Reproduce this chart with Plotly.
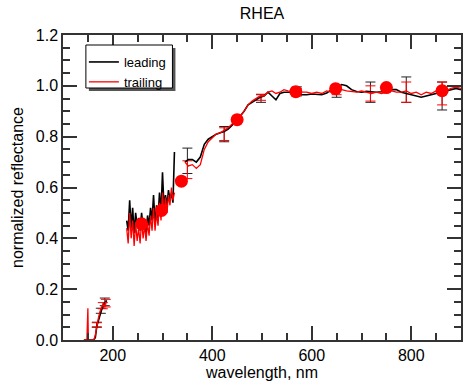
import plotly.graph_objects as go

# ---------------- data ----------------
# UV segment
uv_wl = [142, 146, 148, 150, 151, 154, 158, 162, 165, 168, 171, 174, 177, 180, 183, 186, 188]
lead_uv = [0.0, 0.0, 0.0, 0.0, 0.0, 0.0, 0.0, 0.0, 0.01, 0.055, 0.075, 0.10, 0.115, 0.13, 0.145, 0.15, 0.155]
trail_uv = [0.0, 0.0, 0.0, 0.125, 0.0, 0.0, 0.0, 0.0, 0.02, 0.06, 0.085, 0.11, 0.125, 0.14, 0.13, 0.15, 0.145]

# noisy mid-UV segment
noisy_wl = [228, 231, 234, 237, 240, 243, 246, 249, 252, 255, 258, 261, 264, 267, 270, 273, 276,
            279, 282, 285, 288, 291, 294, 297, 300, 303, 306, 309, 312, 315, 318, 321, 324]
lead_noisy = [0.47, 0.43, 0.55, 0.44, 0.52, 0.42, 0.50, 0.45, 0.48, 0.43, 0.50, 0.44, 0.47, 0.42, 0.49, 0.45, 0.52,
              0.47, 0.57, 0.46, 0.53, 0.48, 0.58, 0.50, 0.66, 0.52, 0.57, 0.53, 0.59, 0.55, 0.58, 0.54, 0.74]
trail_noisy = [0.44, 0.38, 0.50, 0.40, 0.47, 0.37, 0.46, 0.39, 0.44, 0.38, 0.47, 0.40, 0.45, 0.39, 0.46, 0.41, 0.49,
               0.43, 0.52, 0.43, 0.50, 0.45, 0.54, 0.47, 0.58, 0.49, 0.56, 0.50, 0.57, 0.53, 0.60, 0.55, 0.58]

# visible / near-IR segment
vis_wl = [345, 352, 360, 368, 376, 384, 392, 400, 408, 416, 424, 432, 440, 448, 456, 464, 472, 480, 488, 496,
          504, 512, 520, 528, 536, 544, 552, 560, 570, 580, 590, 600, 610, 620, 630, 640, 650, 660, 670, 680,
          690, 700, 710, 720, 730, 740, 750, 760, 770, 780, 790, 800, 810, 820, 830, 840, 850, 860, 870, 880,
          890, 900]
lead_vis = [0.70, 0.71, 0.71, 0.70, 0.72, 0.77, 0.79, 0.80, 0.81, 0.815, 0.82, 0.83, 0.845, 0.865, 0.88, 0.90,
            0.925, 0.935, 0.945, 0.955, 0.96, 0.975, 0.96, 0.945, 0.97, 0.975, 0.975, 0.975, 0.975, 0.965,
            0.965, 0.968, 0.965, 0.965, 0.972, 0.985, 0.99, 1.005, 1.0, 0.985, 0.978, 0.975, 0.978, 0.976,
            0.975, 0.977, 0.98, 0.985, 0.985, 0.975, 0.97, 0.965, 0.96, 0.955, 0.96, 0.965, 0.97, 0.975,
            0.98, 0.985, 0.99, 0.985]
trail_vis = [0.70, 0.685, 0.69, 0.675, 0.69, 0.75, 0.78, 0.795, 0.81, 0.815, 0.825, 0.835, 0.85, 0.865, 0.88,
             0.90, 0.925, 0.94, 0.95, 0.96, 0.96, 0.975, 0.98, 0.97, 0.975, 0.985, 0.98, 0.978, 0.98, 0.975,
             0.975, 0.97, 0.975, 0.97, 0.98, 0.975, 0.985, 0.985, 0.98, 0.978, 0.975, 0.98, 0.975, 0.97,
             0.975, 0.97, 0.975, 0.98, 0.975, 0.975, 0.98, 0.97, 0.975, 0.965, 0.975, 0.97, 0.98, 0.985,
             0.98, 0.99, 0.995, 0.99]

# binned points with error bars
lead_err_wl = [168, 176, 184, 350, 424, 498, 570, 650, 718, 790, 862]
lead_err_val = [0.06, 0.115, 0.15, 0.705, 0.81, 0.95, 0.98, 0.975, 0.975, 0.985, 0.96]
lead_err = [0.01, 0.01, 0.015, 0.05, 0.03, 0.015, 0.016, 0.02, 0.04, 0.05, 0.055]
trail_err_wl = [168, 180, 186, 350, 424, 498, 570, 650, 718, 790, 862]
trail_err_val = [0.06, 0.135, 0.145, 0.67, 0.81, 0.955, 0.975, 0.98, 0.97, 0.975, 0.97]
trail_err = [0.008, 0.012, 0.015, 0.035, 0.025, 0.012, 0.015, 0.015, 0.03, 0.04, 0.045]

# photometric points (red dots)
dot_wl = [258, 298, 338, 450, 568, 648, 750, 862]
dot_val = [0.457, 0.51, 0.625, 0.867, 0.977, 0.989, 0.993, 0.981]

# axes
x_range = [100, 900]
y_range = [0, 1.2]
x_ticks = [200, 400, 600, 800]
y_ticks = [0, 0.2, 0.4, 0.6, 0.8, 1.0, 1.2]

FONT = "Liberation Sans, Arial, Helvetica, sans-serif"
AX = "#333333"

L, R, T, B, W, H = 63, 1, 35, 44, 464, 384
PW, PH = W - L - R, H - T - B


def px2paper(x, y):
    return (x - L) / PW, (H - B - y) / PH


def join(*segs):
    xs, ys = [], []
    for i, (x, y) in enumerate(segs):
        if i:
            xs.append(None)
            ys.append(None)
        xs += x
        ys += y
    return xs, ys


lx, ly = join((uv_wl, lead_uv), (noisy_wl, lead_noisy), (vis_wl, lead_vis))
tx, ty = join((uv_wl, trail_uv), (noisy_wl, trail_noisy), (vis_wl, trail_vis))

fig = go.Figure()

fig.add_trace(go.Scatter(
    x=lead_err_wl, y=lead_err_val, mode="markers", marker=dict(size=1, color="rgba(0,0,0,0)"),
    error_y=dict(type="data", array=lead_err, color="#222222", thickness=1, width=5),
    showlegend=False))
fig.add_trace(go.Scatter(
    x=trail_err_wl, y=trail_err_val, mode="markers", marker=dict(size=1, color="rgba(0,0,0,0)"),
    error_y=dict(type="data", array=trail_err, color="#ff0000", thickness=1, width=5),
    showlegend=False))

fig.add_trace(go.Scatter(x=lx, y=ly, mode="lines", name="leading",
                         line=dict(color="black", width=1.6)))
fig.add_trace(go.Scatter(x=tx, y=ty, mode="lines", name="trailing",
                         line=dict(color="#ff0000", width=1.3)))

fig.add_trace(go.Scatter(x=dot_wl, y=dot_val, mode="markers",
                         marker=dict(color="#ff0000", size=13),
                         showlegend=False))

axis_common = dict(
    showline=True, linecolor=AX, linewidth=1.5, mirror="ticks",
    ticks="inside", ticklen=14, tickwidth=1.5, tickcolor=AX,
    showgrid=False, zeroline=False,
    tickfont=dict(family=FONT, size=16, color="black"),
)

fig.update_layout(
    width=W, height=H,
    margin=dict(l=L, r=R, t=T, b=B),
    plot_bgcolor="white", paper_bgcolor="white",
    title=dict(text="RHEA", x=0.5, xref="paper", y=1 - 13 / H, yref="container",
               xanchor="center", yanchor="middle", font=dict(family=FONT, size=16, color="black")),
    xaxis=dict(range=x_range, tickvals=x_ticks,
               minor=dict(ticks="inside", ticklen=7, dtick=50, tickcolor=AX, tickwidth=1.5),
               title=dict(text="wavelength, nm", font=dict(family=FONT, size=16, color="black"), standoff=4),
               **axis_common),
    yaxis=dict(range=y_range, tickvals=y_ticks, tickformat=".1f",
               minor=dict(ticks="inside", ticklen=7, dtick=0.05, tickcolor=AX, tickwidth=1.5),
               title=dict(text="normalized reflectance", font=dict(family=FONT, size=16, color="black"),
                          standoff=8),
               **axis_common),
    legend=dict(x=px2paper(84, 0)[0], y=px2paper(0, 47)[1], xanchor="left", yanchor="top",
                bgcolor="rgba(0,0,0,0)", borderwidth=0,
                font=dict(family=FONT, size=13, color="black")),
    showlegend=True,
)

# legend frame with drop shadow (pixel box 86-173 x 45-88)
sx0, sy0 = px2paper(89, 91)
sx1, sy1 = px2paper(176, 48)
fig.add_shape(type="rect", xref="paper", yref="paper", x0=sx0, x1=sx1, y0=sy0, y1=sy1,
              fillcolor="#555555", line=dict(width=0), layer="above")
bx0, by0 = px2paper(86, 88)
bx1, by1 = px2paper(173, 45)
fig.add_shape(type="rect", xref="paper", yref="paper", x0=bx0, x1=bx1, y0=by0, y1=by1,
              fillcolor="white", line=dict(color="black", width=1), layer="above")

fig.write_html("out.html")
